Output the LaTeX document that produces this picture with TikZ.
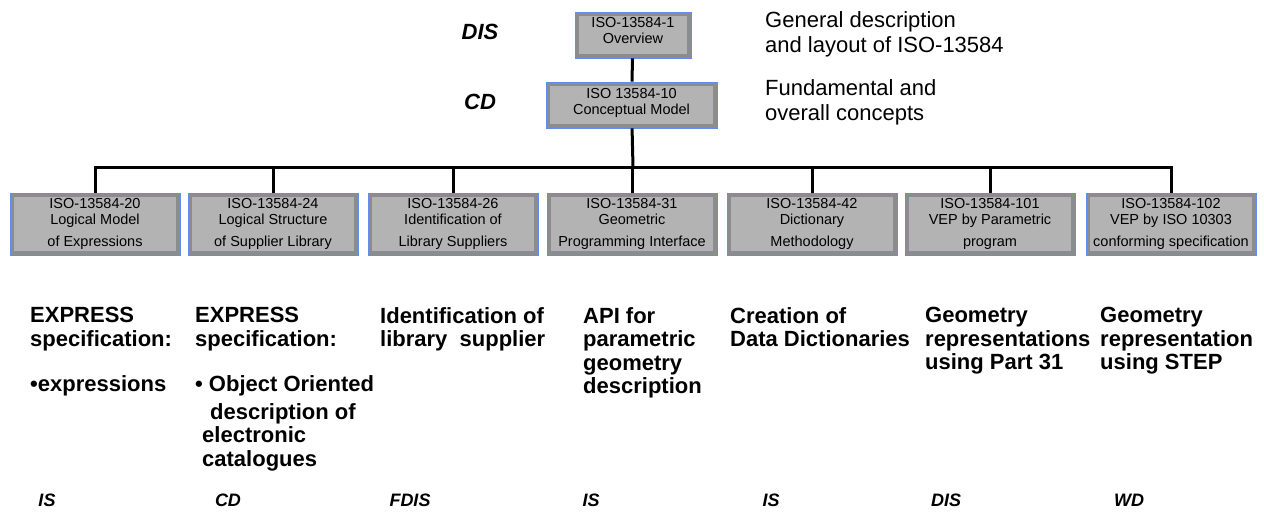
\documentclass[tikz,border=0pt]{standalone}
\usepackage{fontspec}
\setmainfont{Liberation Sans}
\definecolor{boxfill}{RGB}{179,179,179}
\definecolor{boxframe}{RGB}{140,140,140}
\definecolor{boxblue}{RGB}{100,140,240}
\tikzset{
  partbox/.style={draw=boxblue, line width=0.9pt, fill=boxfill, inner sep=0pt, align=center,
    minimum width=170pt, minimum height=62pt, font=\fontsize{14.5}{16}\selectfont,
    path picture={\draw[boxframe, line width=8pt] (path picture bounding box.south west)
      rectangle (path picture bounding box.north east);}},
  link/.style={line width=3pt},
  level/.style={font=\fontsize{22}{24}\selectfont\bfseries\itshape},
  status/.style={font=\fontsize{18}{20}\selectfont\bfseries\itshape},
  remark/.style={anchor=west, align=left, inner sep=0pt, font=\fontsize{22}{25}\selectfont},
  scope/.style={anchor=north west, align=left, inner sep=0pt, font=\fontsize{22}{23.5}\selectfont\bfseries}
}
\begin{document}
\begin{tikzpicture}[x=1pt,y=-1pt]
\useasboundingbox (0,0) rectangle (1264,515);
%\draw[gray,very thin] (0,0) grid[step=50] (1264,515);
% top of the hierarchy
\node[partbox, minimum width=116pt, minimum height=46pt] (overview) at (633,35) {ISO-13584-1\\Overview\\[-6pt]~};
\node[partbox, minimum width=171pt, minimum height=46pt] (concept) at (631.5,105) {ISO 13584-10\\Conceptual Model\\[-8pt]~};
\node[level] (dis) at (480,32) {DIS};
\node[level] (cd) at (480,102) {CD};
\node[remark] (overviewnote) at (765,34.5) {General description\\and layout of ISO-13584};
\node[remark] (conceptnote) at (765,102.5) {Fundamental and\\overall concepts};
\coordinate (bus) at (633,167);
% the parts
\node[partbox] (p20) at (95,224) {ISO-13584-20\\Logical Model\\[6pt]of Expressions};
\node[partbox] (p24) at (273,224) {ISO-13584-24\\Logical Structure\\[6pt]of Supplier Library};
\node[partbox] (p26) at (453,224) {ISO-13584-26\\Identification of\\[6pt]Library Suppliers};
\node[partbox] (p31) at (632,224) {ISO-13584-31\\Geometric\\[6pt]Programming Interface};
\node[partbox] (p42) at (812,224) {ISO-13584-42\\Dictionary\\[6pt]Methodology};
\node[partbox] (p101) at (990,224) {ISO-13584-101\\VEP by Parametric\\[6pt]program};
\node[partbox] (p102) at (1171,224) {ISO-13584-102\\VEP by ISO 10303\\[6pt]conforming specification};
\draw[link] (overview) -- (concept);
\draw[link] (concept) -- (bus);
\draw[link] (p20.north) -- (p20.north |- bus) -- (p102.north |- bus) -- (p102.north);
\foreach \p in {p24,p26,p31,p42,p101}
  \draw[link] (\p.north) -- (\p.north |- bus);
% what each part covers
\node[scope] (s20) at (30,307) {EXPRESS\\specification:\\[22pt]•expressions};
\node[scope] (s24) at (195,307) {EXPRESS\\specification:\\[22pt]• Object Oriented\\[4pt]\hspace*{15pt}description of\\\hspace*{7pt}electronic\\\hspace*{7pt}catalogues};
\node[scope] (s26) at (380,307) {Identification of\\library\ \ supplier};
\node[scope] (s31) at (583,307) {API for\\parametric\\geometry\\description};
\node[scope] (s42) at (730,307) {Creation of\\Data Dictionaries};
\node[scope] (s101) at (925,307) {Geometry\\representations\\using Part 31};
\node[scope] (s102) at (1100,307) {Geometry\\representation\\using STEP};
% status of each part
\node[status] (st20) at (47,500) {IS};
\node[status] (st24) at (228,500) {CD};
\node[status] (st26) at (410,500) {FDIS};
\node[status] (st31) at (591,500) {IS};
\node[status] (st42) at (771,500) {IS};
\node[status] (st101) at (946,500) {DIS};
\node[status] (st102) at (1129,500) {WD};
\end{tikzpicture}
\end{document}
